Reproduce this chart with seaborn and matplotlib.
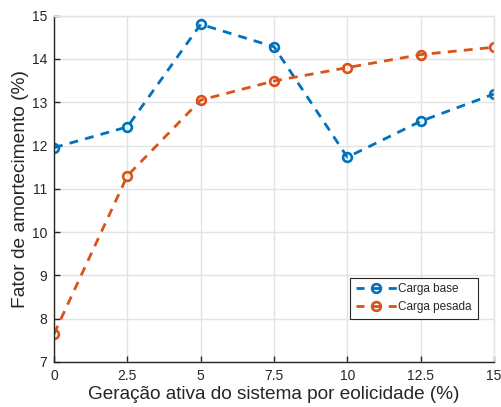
import matplotlib
matplotlib.use("Agg")
import matplotlib.pyplot as plt
from matplotlib.lines import Line2D
import seaborn as sns
import pandas as pd

geracao = [0, 2.5, 5, 7.5, 10, 12.5, 15]
carga_base = [11.95, 12.43, 14.80, 14.28, 11.73, 12.56, 13.19]
carga_pesada = [7.65, 11.30, 13.05, 13.49, 13.80, 14.10, 14.27]
series_names = ["Carga base", "Carga pesada"]
colors = ["#0072BD", "#D95319"]
xticks = [0, 2.5, 5, 7.5, 10, 12.5, 15]
xticklabels = ["0", "2.5", "5", "7.5", "10", "12.5", "15"]
yticks = [7, 8, 9, 10, 11, 12, 13, 14, 15]

sns.set_theme(style="white")
plt.rcParams['font.family'] = ['Liberation Sans', 'DejaVu Sans']

df = pd.DataFrame({
    "x": geracao * 2,
    "y": carga_base + carga_pesada,
    "serie": [series_names[0]] * len(geracao) + [series_names[1]] * len(geracao),
})

fig = plt.figure(figsize=(5.02, 4.07), dpi=100)
ax = fig.add_axes([0.1076, 0.1106, 0.8765, 0.851])

for name, col in zip(series_names, colors):
    sub = df[df["serie"] == name]
    sns.lineplot(data=sub, x="x", y="y", ax=ax, color=col, linestyle=(0, (3.2, 2.6)),
                 linewidth=2.0, marker="o", markersize=6.3, markerfacecolor="none",
                 markeredgecolor=col, markeredgewidth=1.9, legend=False)

ax.set_xlim(0, 15)
ax.set_ylim(7, 15)
ax.set_xticks(xticks)
ax.set_xticklabels(xticklabels)
ax.set_yticks(yticks)
ax.grid(True, color="#e3e3e3", linewidth=1.0)
ax.set_axisbelow(True)
for s in ["top", "right"]:
    ax.spines[s].set_color("#e3e3e3")
    ax.spines[s].set_linewidth(1.0)
for s in ["left", "bottom"]:
    ax.spines[s].set_color("#262626")
    ax.spines[s].set_linewidth(1.0)
ax.tick_params(direction="in", length=4, width=1, colors="#262626", labelsize=10,
               top=False, right=False, left=True, bottom=True, pad=5)
ax.set_xlabel("Geração ativa do sistema por eolicidade (%)", fontsize=13.7, color="#262626", labelpad=2)
ax.set_ylabel("Fator de amortecimento (%)", fontsize=13.8, color="#262626", labelpad=2)

handles = [Line2D([], [], color=c, linestyle=(0, (2.9, 2.9)), linewidth=2.0, marker="o",
                  markersize=6.3, markerfacecolor="none", markeredgecolor=c, markeredgewidth=1.9)
           for c in colors]
leg = ax.legend(handles, series_names, loc="lower right", bbox_to_anchor=(0.963, 0.125), fontsize=8.5,
                frameon=True, fancybox=False, edgecolor="#262626", framealpha=1,
                handlelength=3.45, handletextpad=0.15, borderpad=0.5, labelspacing=0.45,
                borderaxespad=0)
leg.get_frame().set_linewidth(0.8)

fig.savefig("out.png", dpi=100)
